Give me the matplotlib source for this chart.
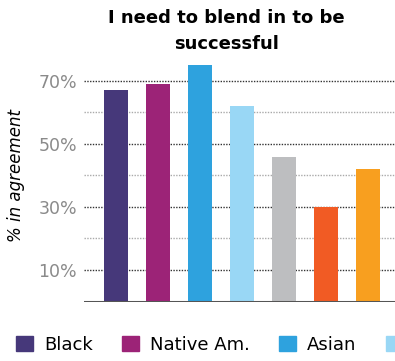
import numpy as np
import matplotlib.pyplot as plt
from matplotlib.patches import Patch

# Data
groups = ['Black', 'Native Am.', 'Asian', 'Pacific Isl.', 'Multiracial', 'Latinx', 'White']
values = [67, 69, 75, 62, 46, 30, 42]
colors = ['#46387a', '#9c2377', '#2ea2de', '#99d7f5', '#bdbec0', '#f15b24', '#f89f1f']
major_ticks = [10, 30, 50, 70]
minor_ticks = [20, 40, 60]

fig = plt.figure(figsize=(3.95, 3.61), dpi=100)
ax = fig.add_axes([84 / 395, 59.5 / 361, 1 - 84 / 395, 239.5 / 361])

x = np.arange(len(groups))

# Grid lines (dotted), darker for the labelled ones
for t in major_ticks:
    ax.axhline(t, color='#333333', lw=1.0, ls=(0, (1, 1)), zorder=1)
for t in minor_ticks:
    ax.axhline(t, color='#aaaaaa', lw=1.0, ls=(0, (1, 1)), zorder=1)

ax.bar(x, values, width=0.57, color=colors, zorder=2)
ax.axhline(0, color='#555555', lw=2.2, zorder=3)

ax.set_xlim(-0.76, 6.64)
ax.set_ylim(0, 76)
ax.set_yticks(major_ticks)
ax.set_yticklabels(['{}%'.format(t) for t in major_ticks],
                   color='#8a8a8a', fontsize=12.5)
ax.tick_params(left=False, bottom=False, labelbottom=False, length=0, pad=5)
for s in ax.spines.values():
    s.set_visible(False)

ax.set_ylabel('% in agreement', fontsize=12, fontstyle='italic')
ax.yaxis.set_label_coords(-0.19, 0.528)

fig.text(0.573, 0.975, 'I need to blend in to be\nsuccessful', ha='center',
         va='top', fontsize=13, fontweight='bold', linespacing=1.6)

handles = [Patch(color=c) for c in colors[:4]]
fig.legend(handles, groups[:4], ncol=4, loc='center left',
           bbox_to_anchor=(16 / 395, 0.045), frameon=False, fontsize=13,
           handlelength=0.95, handleheight=0.95, handletextpad=0.6,
           columnspacing=1.62, borderaxespad=0, borderpad=0)

fig.savefig('out.png', dpi=100)
